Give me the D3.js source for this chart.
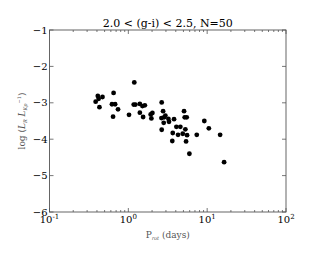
<!DOCTYPE html>
<html>
<head>
<meta charset="utf-8">
<script src="https://cdn.jsdelivr.net/npm/d3@7"></script>
<style>
  body { margin: 0; background: #fff; }
  text { font-family: "DejaVu Serif", serif; }
</style>
</head>
<body>
<div id="chart"></div>
<script>
// rotation period (days) and log(L_R / L_Kp)
const periods = [0.385, 0.41, 0.42, 0.43, 0.47, 0.62, 0.65, 0.64, 0.68, 0.74,
  1.02, 1.19, 1.17, 1.23, 1.40, 1.40, 1.51, 1.54, 1.62, 1.92,
  1.96, 2.02, 2.65, 2.63, 2.65, 2.76, 2.81, 2.84, 2.95, 3.22,
  3.28, 3.61, 3.66, 3.80, 4.07, 4.27, 4.57, 4.9, 5.09, 5.19,
  5.29, 5.4, 5.5, 5.56, 5.95, 7.38, 9.2, 10.5, 14.6, 16.4];
const logRatio = [-2.97, -2.81, -2.89, -3.12, -2.84, -3.04, -2.73, -3.38, -3.04, -3.18,
  -3.33, -2.44, -3.05, -3.05, -3.03, -3.27, -3.09, -3.39, -3.07, -3.32,
  -3.43, -3.28, -2.99, -3.42, -3.74, -3.23, -3.55, -3.40, -3.35, -3.44,
  -3.52, -4.05, -3.83, -3.45, -3.66, -3.88, -3.66, -3.85, -3.23, -3.40,
  -3.73, -4.06, -3.40, -3.89, -4.40, -3.88, -3.50, -3.70, -3.88, -4.63];
const yTicks = [-1, -2, -3, -4, -5, -6];
const xDecades = [-1, 0, 1, 2];
const title = "2.0 < (g-i) < 2.5, N=50";

const width = 312, height = 257;
const margin = { top: 30, right: 26, bottom: 45, left: 49.5 };
const spine = "#555";

const svg = d3.select("#chart").append("svg")
  .attr("width", width).attr("height", height);

const x = d3.scaleLog().domain([0.1, 100]).range([margin.left, width - margin.right]);
const y = d3.scaleLinear().domain([-6, -1]).range([height - margin.bottom, margin.top]);

const x0 = x.range()[0], x1 = x.range()[1];
const y0 = y.range()[0], y1 = y.range()[1];

// minor ticks on log axis
const minor = [];
for (const d of xDecades.slice(0, -1)) {
  for (let m = 2; m <= 9; m++) minor.push(m * Math.pow(10, d));
}
const major = xDecades.map(d => Math.pow(10, d));

const ticks = svg.append("g").attr("stroke", spine).attr("stroke-width", 0.8);
ticks.selectAll(".xmaj").data(major).join("g").each(function (d) {
  const g = d3.select(this);
  g.append("line").attr("x1", x(d)).attr("x2", x(d)).attr("y1", y0).attr("y2", y0 - 4);
  g.append("line").attr("x1", x(d)).attr("x2", x(d)).attr("y1", y1).attr("y2", y1 + 4);
});
ticks.selectAll(".xmin").data(minor).join("g").each(function (d) {
  const g = d3.select(this);
  g.append("line").attr("x1", x(d)).attr("x2", x(d)).attr("y1", y0).attr("y2", y0 - 2);
  g.append("line").attr("x1", x(d)).attr("x2", x(d)).attr("y1", y1).attr("y2", y1 + 2);
});
ticks.selectAll(".ymaj").data(yTicks).join("g").each(function (d) {
  const g = d3.select(this);
  g.append("line").attr("x1", x0).attr("x2", x0 + 4).attr("y1", y(d)).attr("y2", y(d));
  g.append("line").attr("x1", x1).attr("x2", x1 - 4).attr("y1", y(d)).attr("y2", y(d));
});

svg.append("rect")
  .attr("x", x0).attr("y", y1)
  .attr("width", x1 - x0).attr("height", y0 - y1)
  .attr("fill", "none").attr("stroke", spine).attr("stroke-width", 0.9);

// y tick labels
svg.append("g").selectAll("text").data(yTicks).join("text")
  .attr("x", x0 - 2).attr("y", d => y(d) + 3.5)
  .attr("text-anchor", "end").attr("font-size", 10).attr("fill", "#000")
  .text(d => "\u2212" + Math.abs(d));

// x tick labels 10^n
const xl = svg.append("g").selectAll("text").data(xDecades).join("text")
  .attr("x", d => x(Math.pow(10, d))).attr("y", y0 + 11)
  .attr("text-anchor", "middle").attr("font-size", 10).attr("fill", "#000");
xl.append("tspan").text("10");
xl.append("tspan").attr("dy", -4).attr("font-size", 7)
  .text(d => d < 0 ? "-" + Math.abs(d) : d);

// points
svg.append("g").selectAll("circle").data(periods).join("circle")
  .attr("cx", d => x(d)).attr("cy", (d, i) => y(logRatio[i]))
  .attr("r", 2.4).attr("fill", "#000");

// title
svg.append("text")
  .attr("x", (x0 + x1) / 2).attr("y", 27)
  .attr("text-anchor", "middle").attr("font-size", 11).attr("fill", "#000")
  .text(title);

// x label
const xlab = svg.append("text")
  .attr("x", (x0 + x1) / 2).attr("y", 238)
  .attr("text-anchor", "middle").attr("font-size", 9).attr("fill", "#555");
xlab.append("tspan").text("P");
xlab.append("tspan").attr("dy", 2).attr("font-size", 5).attr("font-style", "italic").text("rot");
xlab.append("tspan").attr("dy", -2).text(" (days)");

// y label
const ylab = svg.append("text")
  .attr("transform", `translate(25,${(y0 + y1) / 2}) rotate(-90)`)
  .attr("text-anchor", "middle").attr("font-size", 9).attr("fill", "#555");
ylab.append("tspan").text("log (");
ylab.append("tspan").attr("font-style", "italic").text("L");
ylab.append("tspan").attr("dy", 2).attr("font-size", 5).attr("font-style", "italic").text("R");
ylab.append("tspan").attr("dy", -2).text(" ");
ylab.append("tspan").attr("font-style", "italic").text("L");
ylab.append("tspan").attr("dy", 2).attr("font-size", 5).attr("font-style", "italic").text("Kp");
ylab.append("tspan").attr("dy", -6).attr("font-size", 5).text("\u22121");
ylab.append("tspan").attr("dy", 4).text(")");
</script>
</body>
</html>
